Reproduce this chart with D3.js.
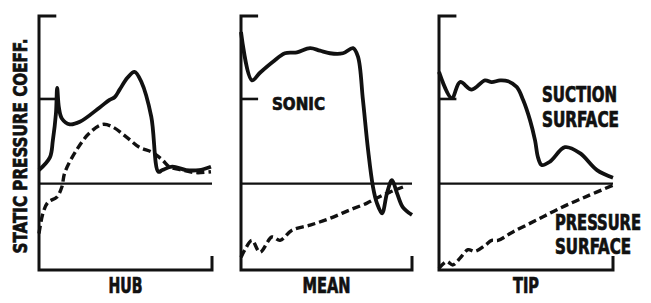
<!DOCTYPE html>
<html>
<head>
<meta charset="utf-8">
<style>
    body { margin: 0; padding: 0; background: #fff; }
    svg { display: block; }
    .lbl { font-family: 'Liberation Sans Narrow', 'DejaVu Sans Condensed', 'Liberation Sans', sans-serif; font-weight: bold; fill: #111; stroke: #111; stroke-width: 0.6; }
</style>
</head>
<body>
<div id="chart"></div>
<script src="https://d3js.org/d3.v7.min.js"></script>
<script>
// chord fraction (0..1) vs static pressure coeff (sonic = 1)
const panels = ["HUB", "MEAN", "TIP"];

const hubSuction = [[0, 0.16], [0.063, 0.31], [0.08, 0.51], [0.098, 0.83], [0.105, 1.13], [0.115, 0.9], [0.132, 0.77],
    [0.178, 0.7], [0.236, 0.73], [0.351, 0.9], [0.408, 0.99], [0.437, 1.02], [0.466, 1.11], [0.511, 1.25],
    [0.552, 1.32], [0.592, 1.2], [0.649, 0.79], [0.69, 0.14], [0.713, 0.16], [0.77, 0.2], [0.851, 0.16],
    [0.925, 0.16], [0.994, 0.2]];
const hubPressure = [[0, -0.59], [0.023, -0.35], [0.052, -0.22], [0.103, -0.16], [0.132, -0.04], [0.149, 0.13],
    [0.218, 0.4], [0.293, 0.6], [0.368, 0.7], [0.425, 0.67], [0.506, 0.55], [0.58, 0.43], [0.655, 0.37],
    [0.713, 0.28], [0.753, 0.2], [0.828, 0.16], [0.908, 0.13], [0.994, 0.14]];

const meanSuction = [[0, 1.79], [0.064, 1.22], [0.111, 1.31], [0.187, 1.44], [0.257, 1.54], [0.327, 1.55],
    [0.404, 1.6], [0.462, 1.57], [0.52, 1.54], [0.596, 1.54], [0.655, 1.6], [0.684, 1.5], [0.713, 0.99],
    [0.743, 0.4], [0.772, -0.04], [0.795, -0.23], [0.825, -0.35], [0.854, -0.11], [0.883, 0.04],
    [0.912, -0.11], [0.947, -0.28], [1.0, -0.37]];
const meanPressure = [[0, -0.87], [0.023, -0.78], [0.064, -0.67], [0.111, -0.81], [0.181, -0.63], [0.228, -0.67],
    [0.298, -0.55], [0.404, -0.49], [0.52, -0.41], [0.637, -0.31], [0.737, -0.23], [0.795, -0.17],
    [0.871, -0.1], [0.947, -0.04]];

const tipSuction = [[0, 1.32], [0.073, 1.01], [0.121, 1.2], [0.188, 1.11], [0.264, 1.22], [0.303, 1.2],
    [0.351, 1.22], [0.397, 1.21], [0.447, 1.14], [0.483, 0.99], [0.523, 0.75], [0.552, 0.51], [0.569, 0.31],
    [0.59, 0.22], [0.638, 0.26], [0.724, 0.43], [0.81, 0.36], [0.908, 0.16], [1.0, 0.07]];
const tipPressure = [[0, -1.0], [0.044, -0.92], [0.08, -0.96], [0.121, -0.88], [0.167, -0.78], [0.207, -0.8],
    [0.264, -0.73], [0.303, -0.67], [0.339, -0.67], [0.425, -0.57], [0.561, -0.43], [0.695, -0.29],
    [0.849, -0.15], [0.998, -0.02]];

const suction = [hubSuction, meanSuction, tipSuction];
const pressure = [hubPressure, meanPressure, tipPressure];
const sonicLevel = 1;
const yTop = 1.98, yBottom = -1.02;

const width = 651, height = 303;
const panelLeft = [39, 241, 439];
const panelRight = [212, 412, 613];

const svg = d3.select("#chart").append("svg")
    .attr("width", width)
    .attr("height", height);

const y = d3.scaleLinear().domain([yBottom, yTop]).range([270, 16]);

// condensed bold lettering: narrow font, stretched a bit vertically
function label(txt, px, py, size, len, anchor) {
    svg.append("text").attr("class", "lbl")
        .attr("transform", "translate(" + px + "," + py + ") scale(1,1.2)")
        .attr("text-anchor", anchor || "start")
        .attr("font-size", size)
        .attr("textLength", len)
        .attr("lengthAdjust", "spacingAndGlyphs")
        .text(txt);
}

panels.forEach(function(name, i) {
    const x = d3.scaleLinear().domain([0, 1]).range([panelLeft[i], panelRight[i]]);
    const g = svg.append("g");
    const ink = "#111";

    // frame: top tick, left axis, bottom axis, right end tick
    g.append("path")
        .attr("d", "M" + x(0.1) + "," + y(yTop) + "H" + x(0) + "V" + y(yBottom) + "H" + x(1) + "V" + (y(yBottom) - 14))
        .attr("fill", "none").attr("stroke", ink).attr("stroke-width", 3);

    // sonic tick
    g.append("line")
        .attr("x1", x(0)).attr("x2", x(0.1))
        .attr("y1", y(sonicLevel)).attr("y2", y(sonicLevel))
        .attr("stroke", ink).attr("stroke-width", 2.6);

    // zero line
    g.append("line")
        .attr("x1", x(0)).attr("x2", x(1))
        .attr("y1", y(0)).attr("y2", y(0))
        .attr("stroke", ink).attr("stroke-width", 2.2);

    const line = d3.line()
        .x(d => x(d[0]))
        .y(d => y(d[1]))
        .curve(d3.curveCatmullRom.alpha(0.5));

    g.append("path").datum(pressure[i])
        .attr("d", line)
        .attr("fill", "none").attr("stroke", ink).attr("stroke-width", 3.4)
        .attr("stroke-dasharray", "8,4");

    g.append("path").datum(suction[i])
        .attr("d", line)
        .attr("fill", "none").attr("stroke", ink).attr("stroke-width", 3.8)
        .attr("stroke-linejoin", "round");

    label(name, x(0.5), 293, 18, [34, 48, 26][i], "middle");
});

label("SONIC", 272, 110, 15, 53);
label("SUCTION", 542, 102, 17, 75);
label("SURFACE", 542, 127, 17, 77);
label("PRESSURE", 555, 230, 17, 86);
label("SURFACE", 555, 254, 17, 76);

svg.append("text").attr("class", "lbl")
    .attr("transform", "translate(27,146) rotate(-90) scale(1,1.15)")
    .attr("text-anchor", "middle")
    .attr("font-size", 17)
    .attr("textLength", 215)
    .attr("lengthAdjust", "spacingAndGlyphs")
    .text("STATIC PRESSURE COEFF.");
</script>
</body>
</html>
